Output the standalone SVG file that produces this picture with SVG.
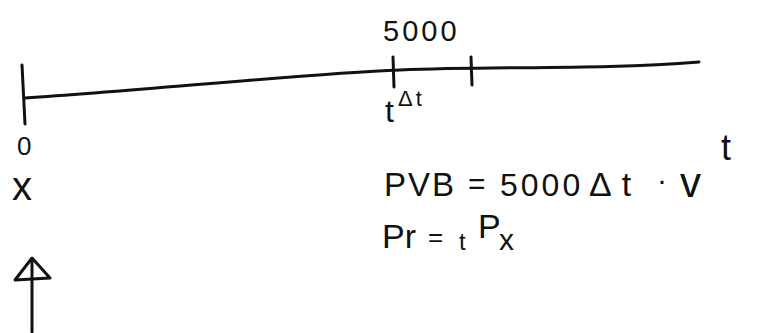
<svg xmlns="http://www.w3.org/2000/svg" width="764" height="333" viewBox="0 0 764 333">
<style>
.ink{fill:none;stroke:#111;stroke-width:3;stroke-linecap:round;stroke-linejoin:round}
.t{font-family:"Liberation Sans","DejaVu Sans",sans-serif;fill:#111}
</style>
<rect width="764" height="333" fill="#fff"/>
<g id="connectors">
<path id="timeline" class="ink" d="M25,98 C150,90 300,74 400,70 S600,70 699,62"/>
<path id="tick-0" class="ink" d="M22,65 L25,124"/>
<path id="tick-t" class="ink" d="M393,57 L394,87"/>
<path id="tick-dt" class="ink" d="M471,57 L472,85"/>
<g id="arrow">
<path class="ink" d="M32,260 L32,332"/>
<path class="ink" d="M32,258 L15,280 L50,278 Z"/>
</g>
</g>
<g id="label-5000"><text class="t" x="383" y="41" font-size="29" letter-spacing="3">5000</text></g>
<g id="label-t"><text class="t" x="385" y="122" font-size="32">t</text></g>
<g id="label-dt"><text class="t" x="398" y="106" font-size="22" letter-spacing="3">Δt</text></g>
<g id="label-0"><text class="t" x="17" y="155" font-size="26">0</text></g>
<g id="label-x"><text class="t" x="12" y="200" font-size="40">x</text></g>
<g id="formula-pvb">
<text class="t" x="384" y="196" font-size="33" letter-spacing="2">PVB</text>
<text class="t" x="468" y="194" font-size="30">=</text>
<text class="t" x="500" y="196" font-size="32" letter-spacing="3">5000</text>
<text class="t" x="589" y="196" font-size="34" letter-spacing="10">Δt</text>
<text class="t" x="657" y="190" font-size="30">·</text>
<text class="t" x="680" y="197" font-size="42">v</text>
<text class="t" x="721" y="160" font-size="36">t</text>
</g>
<g id="formula-pr">
<text class="t" x="382" y="248" font-size="34">Pr</text>
<text class="t" x="428" y="246" font-size="26">=</text>
<text class="t" x="459" y="250" font-size="24">t</text>
<text class="t" x="478" y="238" font-size="34">P</text>
<text class="t" x="499" y="250" font-size="30">x</text>
</g>
</svg>
